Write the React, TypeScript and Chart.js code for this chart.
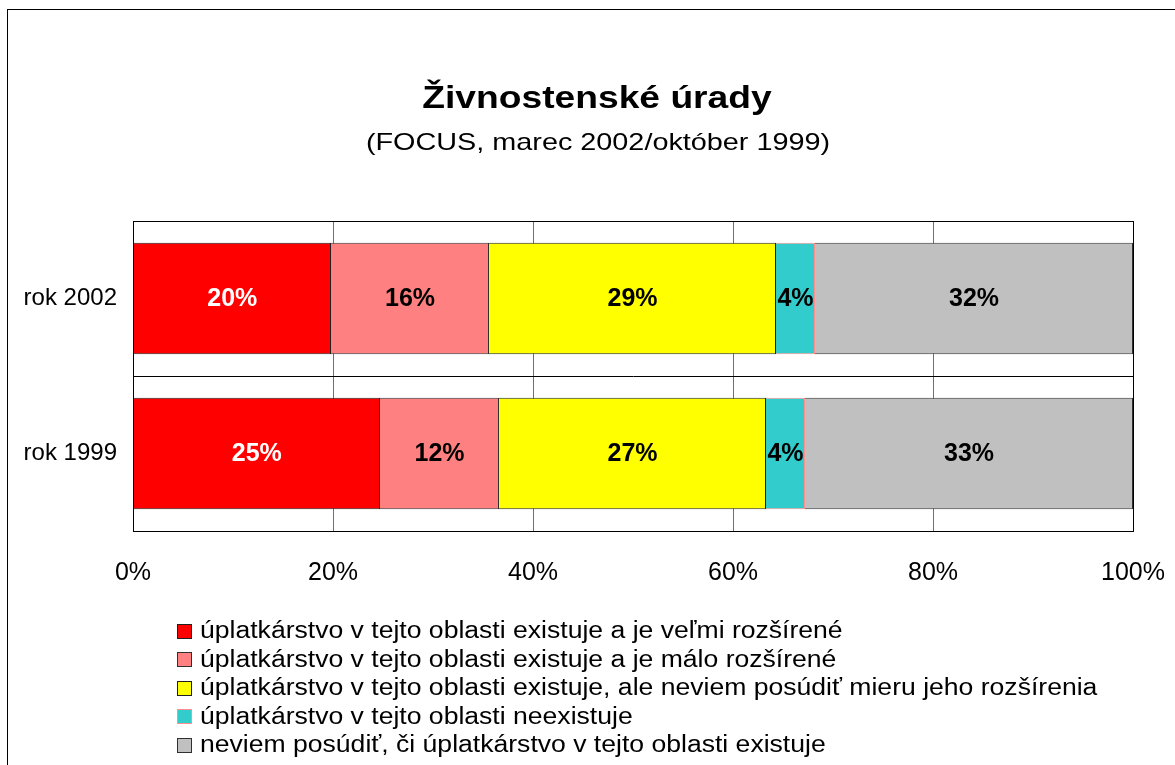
import React, { useEffect, useRef } from 'react';
import { Chart, registerables } from 'chart.js';

Chart.register(...registerables);

// ---- data ----
const categories = ['rok 2002', 'rok 1999'];
const seriesNames = [
  'úplatkárstvo v tejto oblasti existuje a je veľmi rozšírené',
  'úplatkárstvo v tejto oblasti existuje a je málo rozšírené',
  'úplatkárstvo v tejto oblasti existuje, ale neviem posúdiť mieru jeho rozšírenia',
  'úplatkárstvo v tejto oblasti neexistuje',
  'neviem posúdiť, či úplatkárstvo v tejto oblasti existuje',
];
const veryWidespread = [19.8, 24.7];
const littleWidespread = [15.8, 11.9];
const extentUnknown = [28.7, 26.7];
const doesNotExist = [3.9, 3.9];
const cannotJudge = [31.8, 32.8];
const xTickLabels = ['0%', '20%', '40%', '60%', '80%', '100%'];
const titleText = 'Živnostenské úrady';
const subtitleText = '(FOCUS, marec 2002/október 1999)';

const FONT = '"Liberation Sans", Arial, sans-serif';

const seriesValues = [veryWidespread, littleWidespread, extentUnknown, doesNotExist, cannotJudge];
const fillColors = ['#FF0000', '#FF8080', '#FFFF00', '#33CCCC', '#C0C0C0'];
const edgeColors = ['#202020', '#303030', '#202020', '#FF9090', '#303030'];
const labelColors = ['#FFFFFF', '#000000', '#000000', '#000000', '#000000'];

function stretchedText(ctx: CanvasRenderingContext2D, text: string, x: number, y: number, sx: number) {
  ctx.save();
  ctx.translate(x, y);
  ctx.scale(sx, 1);
  ctx.fillText(text, 0, 0);
  ctx.restore();
}

const decorPlugin = {
  id: 'decor',
  beforeDraw(chart: any) {
    const ctx = chart.ctx as CanvasRenderingContext2D;
    ctx.save();
    ctx.fillStyle = '#FFFFFF';
    ctx.fillRect(0, 0, chart.width, chart.height);
    ctx.strokeStyle = '#000000';
    ctx.lineWidth = 1;
    ctx.strokeRect(7.5, 9.5, chart.width + 20, chart.height + 20);
    // title & subtitle
    ctx.fillStyle = '#000000';
    ctx.textAlign = 'center';
    ctx.textBaseline = 'alphabetic';
    ctx.font = `bold 31px ${FONT}`;
    stretchedText(ctx, titleText, 597, 108, 1.2);
    ctx.font = `24px ${FONT}`;
    stretchedText(ctx, subtitleText, 598, 150, 1.2);
    ctx.restore();
  },
  afterDatasetsDraw(chart: any) {
    const ctx = chart.ctx as CanvasRenderingContext2D;
    const a = chart.chartArea;
    ctx.save();
    ctx.strokeStyle = '#000000';
    ctx.lineWidth = 1;
    ctx.strokeRect(Math.round(a.left) + 0.5, Math.round(a.top) + 0.5, Math.round(a.right - a.left), Math.round(a.bottom - a.top));
    // data labels
    ctx.font = `bold 25px ${FONT}`;
    ctx.textAlign = 'center';
    ctx.textBaseline = 'middle';
    chart.data.datasets.forEach((ds: any, i: number) => {
      const meta = chart.getDatasetMeta(i);
      meta.data.forEach((bar: any, j: number) => {
        const p = bar.getProps(['x', 'y', 'base'], true);
        ctx.fillStyle = labelColors[i];
        ctx.fillText(Math.round(ds.data[j]) + '%', (p.x + p.base) / 2, p.y + 1);
      });
    });
    // legend
    ctx.textAlign = 'left';
    ctx.font = `23px ${FONT}`;
    chart.data.datasets.forEach((ds: any, i: number) => {
      const cy = 631 + i * 28.5;
      ctx.fillStyle = ds.backgroundColor;
      ctx.fillRect(177, Math.round(cy - 7.5), 15, 15);
      ctx.strokeStyle = ds.borderColor;
      ctx.strokeRect(177.5, Math.round(cy - 7.5) + 0.5, 14, 14);
      ctx.fillStyle = '#000000';
      stretchedText(ctx, ds.label, 200, cy + 1, 1.155);
    });
    ctx.restore();
  },
};

export default function App() {
  const ref = useRef<HTMLCanvasElement>(null);
  useEffect(() => {
    if (!ref.current) return;
    const chart = new Chart(ref.current, {
      type: 'bar',
      data: {
        labels: categories,
        datasets: seriesValues.map((vals, i) => ({
          label: seriesNames[i],
          data: vals,
          backgroundColor: fillColors[i],
          borderColor: edgeColors[i],
          borderWidth: 1,
          barPercentage: 0.72,
          categoryPercentage: 1,
        })),
      },
      options: {
        indexAxis: 'y',
        responsive: false,
        animation: false,
        devicePixelRatio: 1,
        layout: { padding: { top: 221, left: 0, right: 42, bottom: 174 } },
        plugins: {
          legend: { display: false },
          title: { display: false },
          tooltip: { enabled: false },
        },
        scales: {
          x: {
            stacked: true,
            min: 0,
            max: 100,
            afterFit: (s: any) => { s.height = 60; s.paddingLeft = 0; s.paddingRight = 0; },
            ticks: {
              stepSize: 20,
              color: '#000000',
              padding: 27,
              maxRotation: 0,
              font: { family: FONT, size: 25 },
              callback: (_v: any, i: number) => xTickLabels[i],
            },
            grid: { color: '#707070', drawTicks: false, lineWidth: 1 },
            border: { color: '#000000' },
          },
          y: {
            stacked: true,
            afterFit: (s: any) => { s.width = 133; s.paddingTop = 0; s.paddingBottom = 0; },
            ticks: {
              color: '#000000',
              padding: 16,
              font: { family: FONT, size: 24 },
            },
            grid: { color: '#000000', drawTicks: false, offset: true },
            border: { color: '#000000' },
          },
        },
      },
      plugins: [decorPlugin],
    } as any);
    return () => chart.destroy();
  }, []);
  return (
    <div style={{ position: 'fixed', left: 0, top: 0, width: 1175, height: 765 }}>
      <canvas ref={ref} width={1175} height={765} style={{ display: 'block' }} />
    </div>
  );
}
